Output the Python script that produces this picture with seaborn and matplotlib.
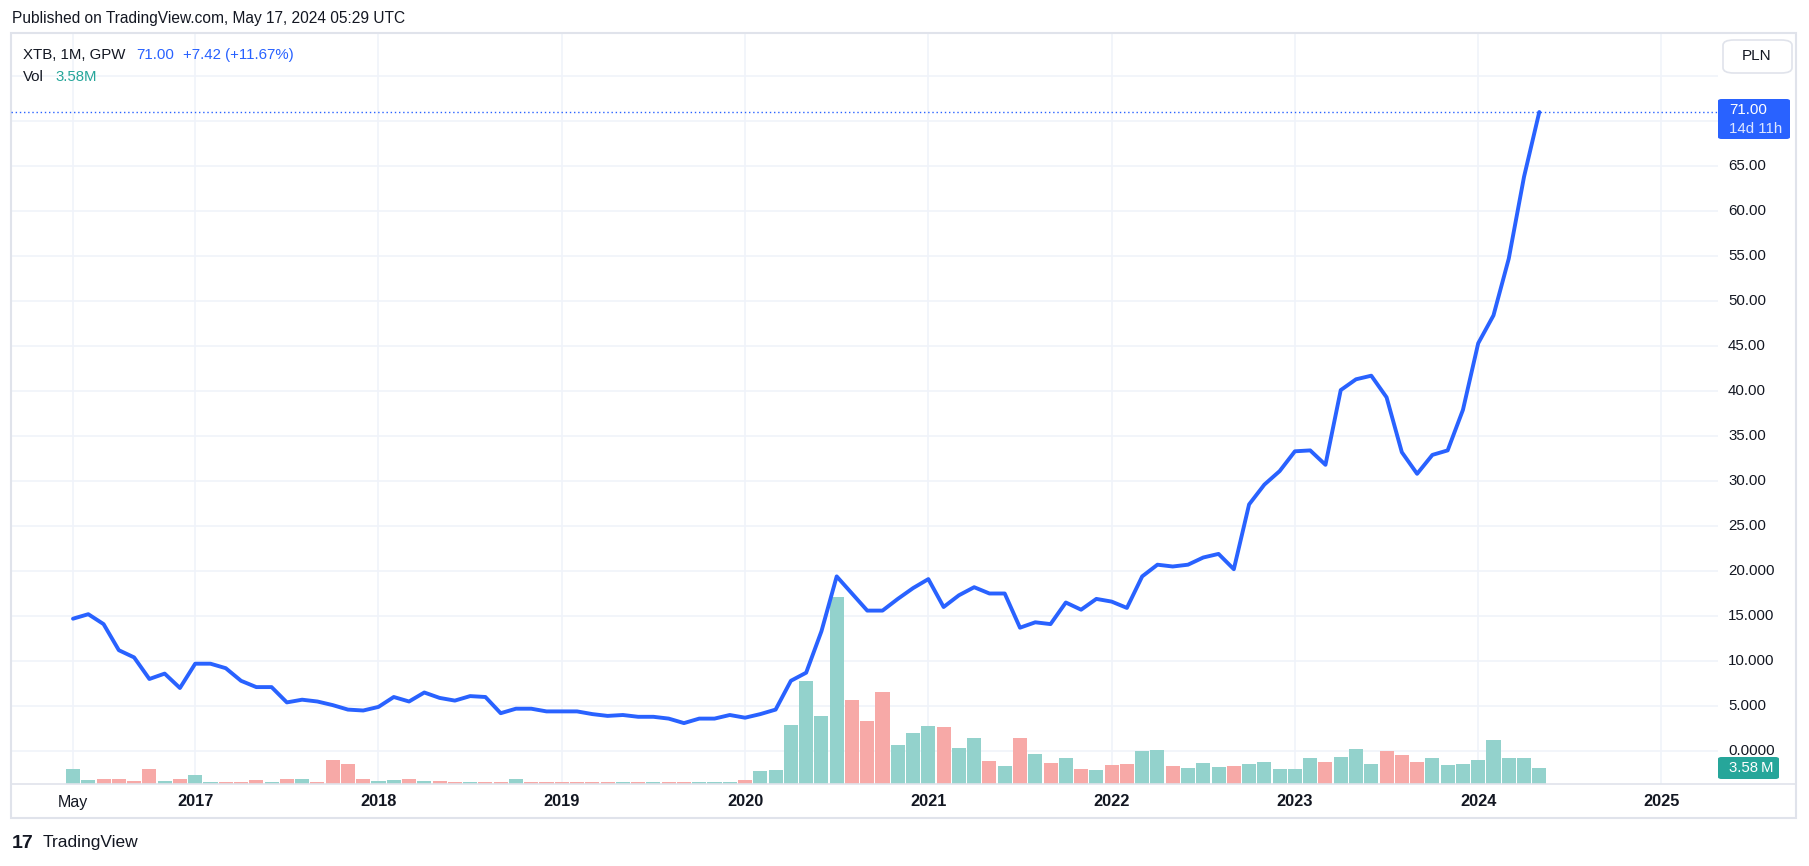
import numpy as np
import pandas as pd
import matplotlib
matplotlib.use('Agg')
import matplotlib.pyplot as plt
import matplotlib.transforms as mtransforms
from matplotlib.patches import Rectangle, FancyBboxPatch
import seaborn as sns

# ==========================================
# DATA  (XTB, monthly, GPW, May 2016 -> May 2024)
# ==========================================
close = [14.7, 15.2, 14.1, 11.2, 10.4, 8.0, 8.6, 7.0,
         9.7, 9.7, 9.2, 7.8, 7.1, 7.1, 5.4, 5.7, 5.5, 5.1, 4.6, 4.5,
         4.9, 6.0, 5.5, 6.5, 5.9, 5.6, 6.1, 6.0, 4.2, 4.7, 4.7, 4.4,
         4.4, 4.4, 4.1, 3.9, 4.0, 3.8, 3.8, 3.6, 3.1, 3.6, 3.6, 4.0,
         3.7, 4.1, 4.6, 7.8, 8.7, 13.3, 19.4, 17.5, 15.6, 15.6, 16.9, 18.1,
         19.1, 16.0, 17.3, 18.2, 17.5, 17.5, 13.7, 14.3, 14.1, 16.5, 15.7, 16.9,
         16.6, 15.9, 19.4, 20.7, 20.5, 20.7, 21.5, 21.9, 20.2, 27.4, 29.6, 31.1,
         33.3, 33.4, 31.8, 40.1, 41.3, 41.7, 39.3, 33.2, 30.8, 32.9, 33.4, 37.9,
         45.3, 48.4, 54.7, 63.8, 71.0]

# volume in millions of shares
volume_m = [3.4, 0.9, 1.1, 1.1, 0.67, 3.4, 0.67, 1.1,
            2.0, 0.45, 0.45, 0.45, 0.9, 0.45, 1.1, 1.1, 0.45, 5.4, 4.5, 1.1,
            0.67, 0.9, 1.1, 0.67, 0.67, 0.45, 0.45, 0.45, 0.45, 1.1, 0.45, 0.45,
            0.45, 0.45, 0.45, 0.45, 0.45, 0.45, 0.45, 0.45, 0.45, 0.45, 0.45, 0.45,
            0.9, 2.9, 3.1, 13.2, 23.0, 15.2, 41.8, 18.8, 14.1, 20.6, 8.7, 11.4,
            13.0, 12.8, 8.1, 10.3, 5.1, 4.0, 10.3, 6.7, 4.7, 5.8, 3.4, 3.1,
            4.3, 4.5, 7.4, 7.6, 4.0, 3.6, 4.7, 3.8, 4.0, 4.5, 4.9, 3.4,
            3.4, 5.8, 4.9, 6.0, 7.8, 4.5, 7.4, 6.5, 4.9, 5.8, 4.3, 4.5,
            5.4, 9.9, 5.8, 5.8, 3.58]

# candle direction: u = close above open, d = below (one string per year)
direction_by_year = ["uuddddud",
                     "uudddududddd",
                     "uududduddudd",
                     "ddddududduuu",
                     "duuuuuuddduu",
                     "uduududududu",
                     "dduuduuuduuu",
                     "uuduuuddduuu",
                     "uuuuu"]
direction = list("".join(direction_by_year))

price_labels = ["0.0000", "5.000", "10.000", "15.000", "20.000",
                "25.00", "30.00", "35.00", "40.00", "45.00",
                "50.00", "55.00", "60.00", "65.00"]
price_levels = [0, 5, 10, 15, 20, 25, 30, 35, 40, 45, 50, 55, 60, 65]

# ==========================================
# LAYOUT
# ==========================================
W, H = 1809, 866
LINE = "#2962ff"
TEAL = "#26a69a"
TXT = "#131722"
GRID = "#f0f3fa"
BORDER = "#e0e3eb"

df = pd.DataFrame({"idx": np.arange(len(close)), "close": close,
                   "vol": volume_m, "dir": direction})
year_ticks = [(i, str(m.year)) for i, m in
              enumerate(pd.date_range("2016-05-01", periods=110, freq="MS")) if m.month == 1]


def fx(x):
    return x / W


def fy(y):
    return 1 - y / H


sns.set_theme(style="white")
plt.rcParams['font.family'] = ['Liberation Sans', 'DejaVu Sans']

fig = plt.figure(figsize=(W / 100, H / 100), dpi=100)
ax_v = fig.add_axes([fx(11), fy(784), fx(1718) - fx(11), fy(33) - fy(784)])
ax = ax_v.twinx()
ax.set_zorder(ax_v.get_zorder() + 1)
ax.patch.set_visible(False)

ax.set_ylim(-33 / 9, 718 / 9)
ax_v.set_ylim(0, 751 / 4.47)

# grid (on the volume layer so it stays behind the bars)
blend = mtransforms.blended_transform_factory(ax_v.transAxes, ax.transData)
for p in range(0, 80, 5):
    ax_v.plot([0, 1], [p, p], transform=blend, color=GRID, lw=1.2, zorder=0)
for i, _ in [(0, "May")] + year_ticks:
    ax_v.axvline(i, color=GRID, lw=1.2, zorder=0)

sns.barplot(data=df, x="idx", y="vol", hue="dir",
            palette={"u": "#93d2cc", "d": "#f7a9a7"},
            native_scale=True, dodge=False, width=0.92, errorbar=None,
            saturation=1, legend=False, linewidth=0, ax=ax_v, zorder=2)

sns.lineplot(data=df, x="idx", y="close", color=LINE, linewidth=2.8, ax=ax)
ax.axhline(close[-1], color=LINE, ls=(0, (1, 2)), lw=1)

ax_v.set_xlim(-4.06, 107.7)
for a in (ax, ax_v):
    a.set_xticks([])
    a.set_yticks([])
    a.set_xlabel("")
    a.set_ylabel("")
    for s in a.spines.values():
        s.set_visible(False)

# price scale
blend_p = mtransforms.blended_transform_factory(ax.transAxes, ax.transData)
for p, lab in zip(price_levels, price_labels):
    ax.text(1 + 10 / 1707, p, lab, transform=blend_p, ha="left", va="center",
            fontsize=10.8, color=TXT, clip_on=False)

# time scale
blend_t = mtransforms.blended_transform_factory(ax_v.transData, fig.transFigure)
ax_v.text(0, fy(802), "May", transform=blend_t, ha="center", va="center",
          fontsize=11.5, color=TXT, clip_on=False)
for i, lab in year_ticks:
    if 0 < i <= 105:
        ax_v.text(i, fy(802), lab, transform=blend_t, ha="center", va="center",
                  fontsize=11.8, fontweight="bold", color=TXT, clip_on=False)

# frame
fig.add_artist(Rectangle((fx(11), fy(818)), (1796 - 11) / W, (818 - 33) / H,
                         transform=fig.transFigure, fill=False, ec=BORDER, lw=1.5))
fig.add_artist(plt.Line2D([fx(11), fx(1796)], [fy(784), fy(784)],
                          transform=fig.transFigure, color=BORDER, lw=1.2))

# last price / volume tags
fig.add_artist(FancyBboxPatch((fx(1718), fy(139)), 72 / W, 40 / H,
                              boxstyle="round,pad=0,rounding_size=0.002",
                              transform=fig.transFigure, fc=LINE, ec="none"))
fig.text(fx(1729), fy(110), "71.00", ha="left", va="center", fontsize=10.8, color="white")
fig.text(fx(1729), fy(129), "14d 11h", ha="left", va="center", fontsize=10.8, color="#dde6ff")
fig.add_artist(FancyBboxPatch((fx(1718), fy(779)), 61 / W, 22 / H,
                              boxstyle="round,pad=0,rounding_size=0.002",
                              transform=fig.transFigure, fc=TEAL, ec="none"))
fig.text(fx(1729), fy(768), "3.58\u2009M", ha="left", va="center", fontsize=10.8,
         color="white", family=['Liberation Sans', 'DejaVu Sans'])

# currency button
fig.add_artist(FancyBboxPatch((fx(1723), fy(73)), 69 / W, 33 / H,
                              boxstyle="round,pad=0,rounding_size=0.006",
                              transform=fig.transFigure, fc="white", ec=BORDER, lw=1.2))
fig.text(fx(1757), fy(56), "PLN", ha="center", va="center", fontsize=11, color=TXT)

# headers
fig.text(fx(12), fy(19), "Published on TradingView.com, May 17, 2024 05:29 UTC",
         ha="left", va="center", fontsize=11.2, color=TXT)
fig.text(fx(23), fy(55), "XTB, 1M, GPW", ha="left", va="center", fontsize=10.8, color=TXT)
fig.text(fx(136), fy(55), "71.00", ha="left", va="center", fontsize=10.8, color=LINE)
fig.text(fx(183), fy(55), "+7.42 (+11.67%)", ha="left", va="center", fontsize=10.8, color=LINE)
fig.text(fx(23), fy(77), "Vol", ha="left", va="center", fontsize=10.8, color=TXT)
fig.text(fx(55), fy(77), "3.58M", ha="left", va="center", fontsize=10.8, color=TEAL)

# logo
fig.text(fx(12), fy(843), "17", ha="left", va="center", fontsize=14,
         fontweight="heavy", color=TXT)
fig.text(fx(43), fy(843), "TradingView", ha="left", va="center", fontsize=12.5, color=TXT)

fig.savefig("out.png", dpi=100, facecolor="white")
